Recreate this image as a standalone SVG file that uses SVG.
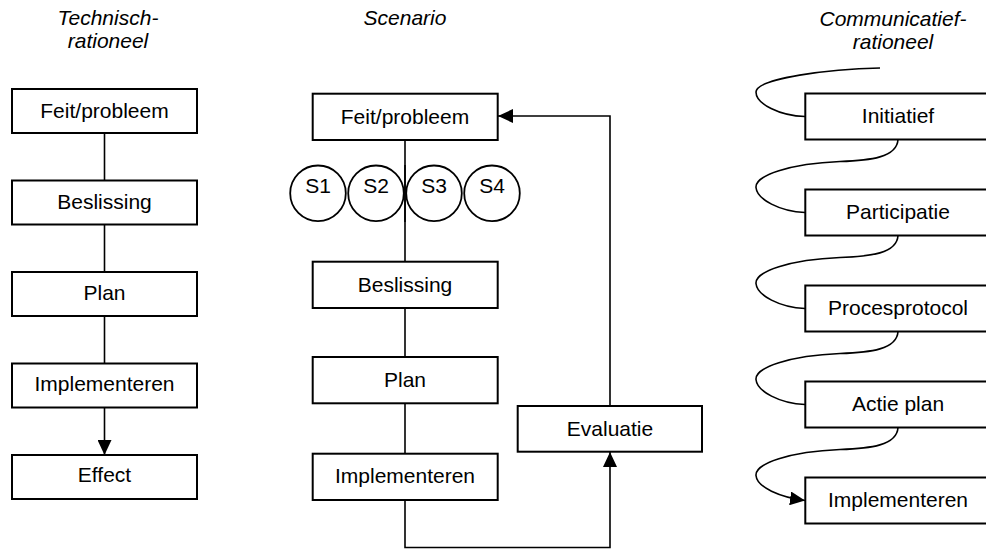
<svg xmlns="http://www.w3.org/2000/svg" width="986" height="549" viewBox="0 0 986 549">
<style>
.box{fill:#fff;stroke:#000;stroke-width:2}
.circ{fill:#fff;stroke:#000;stroke-width:1.8}
.lbl{font-family:"Liberation Sans",Arial,sans-serif;font-size:21px;fill:#000;text-anchor:middle}
.ttl{font-family:"Liberation Sans",Arial,sans-serif;font-size:21px;font-style:italic;fill:#000;text-anchor:middle}
.ln{fill:none;stroke:#000;stroke-width:1.6}
</style>
<defs>
<marker id="ah" markerUnits="userSpaceOnUse" markerWidth="16" markerHeight="14" refX="15" refY="7" orient="auto">
<path d="M0,0 L15,7 L0,14 z" fill="#000"/>
</marker>
</defs>
<rect width="986" height="549" fill="#fff"/>

<g id="titles">
<text class="ttl" x="108" y="25">Technisch-</text>
<text class="ttl" x="108" y="48">rationeel</text>
<text class="ttl" x="405" y="25">Scenario</text>
<text class="ttl" x="893" y="26">Communicatief-</text>
<text class="ttl" x="893" y="49">rationeel</text>
</g>

<g id="connectors">
<line class="ln" x1="104.5" y1="133" x2="104.5" y2="180.5"/>
<line class="ln" x1="104.5" y1="224.5" x2="104.5" y2="272"/>
<line class="ln" x1="104.5" y1="316" x2="104.5" y2="363.5"/>
<line class="ln" x1="104.5" y1="407.5" x2="104.5" y2="455" marker-end="url(#ah)"/>

<line class="ln" x1="405" y1="140" x2="405" y2="262"/>
<line class="ln" x1="405" y1="308" x2="405" y2="357"/>
<line class="ln" x1="405" y1="403.5" x2="405" y2="454"/>
<polyline class="ln" points="405,500 405,547.5 610,547.5 610,452" marker-end="url(#ah)"/>
<polyline class="ln" points="610,406 610,116 498,116" marker-end="url(#ah)"/>

<path class="ln" d="M880,68 C830,69 757,78 756,92 C756,104 780,116 805,116.5"/>
<path class="ln" d="M898,139.5 C897,157.5 870,160.5 840,161.5 C790,163.5 755,175.5 756,187.5 C757,199.5 780,211.5 805,212.5"/>
<path class="ln" d="M898,235.5 C897,253.5 870,256.5 840,257.5 C790,259.5 755,271.5 756,283.5 C757,295.5 780,307.5 805,308.5"/>
<path class="ln" d="M898,331.5 C897,349.5 870,352.5 840,353.5 C790,355.5 755,367.5 756,379.5 C757,391.5 780,403.5 805,404.5"/>
<path class="ln" d="M898,427.5 C897,445.5 870,448.5 840,449.5 C790,451.5 755,463.5 756,475.5 C757,487.5 780,497 805,500.5" marker-end="url(#ah)"/>
</g>

<g id="t1"><rect class="box" x="12" y="89" width="185" height="44"/><text class="lbl" x="104.5" y="117.5">Feit/probleem</text></g>
<g id="t2"><rect class="box" x="12" y="180.5" width="185" height="44"/><text class="lbl" x="104.5" y="208.5">Beslissing</text></g>
<g id="t3"><rect class="box" x="12" y="272" width="185" height="44"/><text class="lbl" x="104.5" y="300">Plan</text></g>
<g id="t4"><rect class="box" x="12" y="363.5" width="185" height="44"/><text class="lbl" x="104.5" y="391">Implementeren</text></g>
<g id="t5"><rect class="box" x="12" y="455" width="185" height="44"/><text class="lbl" x="104.5" y="482">Effect</text></g>

<g id="s1"><rect class="box" x="312.7" y="93.7" width="185" height="46.3"/><text class="lbl" x="405" y="123.5">Feit/probleem</text></g>
<g id="c1"><circle class="circ" cx="318" cy="193.3" r="27.8"/><text class="lbl" x="318" y="193">S1</text></g>
<g id="c2"><circle class="circ" cx="376" cy="193.3" r="27.8"/><text class="lbl" x="376" y="193">S2</text></g>
<g id="c3"><circle class="circ" cx="434" cy="193.3" r="27.8"/><text class="lbl" x="434" y="193">S3</text></g>
<g id="c4"><circle class="circ" cx="492" cy="193.3" r="27.8"/><text class="lbl" x="492" y="193">S4</text></g>
<line class="ln" x1="405" y1="165" x2="405" y2="222"/>
<g id="s2"><rect class="box" x="312.7" y="261.7" width="185" height="46.3"/><text class="lbl" x="405" y="291.5">Beslissing</text></g>
<g id="s3"><rect class="box" x="312.7" y="357" width="185" height="46.3"/><text class="lbl" x="405" y="386.5">Plan</text></g>
<g id="s4"><rect class="box" x="312.7" y="453.7" width="185" height="46.3"/><text class="lbl" x="405" y="483">Implementeren</text></g>
<g id="s5"><rect class="box" x="517.7" y="406" width="184.3" height="45.7"/><text class="lbl" x="610" y="435.5">Evaluatie</text></g>

<g id="r1"><rect class="box" x="805.3" y="93.5" width="190" height="46"/><text class="lbl" x="898" y="123">Initiatief</text></g>
<g id="r2"><rect class="box" x="805.3" y="189.5" width="190" height="46"/><text class="lbl" x="898" y="219">Participatie</text></g>
<g id="r3"><rect class="box" x="805.3" y="285.5" width="190" height="46"/><text class="lbl" x="898" y="315">Procesprotocol</text></g>
<g id="r4"><rect class="box" x="805.3" y="381.5" width="190" height="46"/><text class="lbl" x="898" y="411">Actie plan</text></g>
<g id="r5"><rect class="box" x="805.3" y="477.5" width="190" height="46"/><text class="lbl" x="898" y="507">Implementeren</text></g>
</svg>
